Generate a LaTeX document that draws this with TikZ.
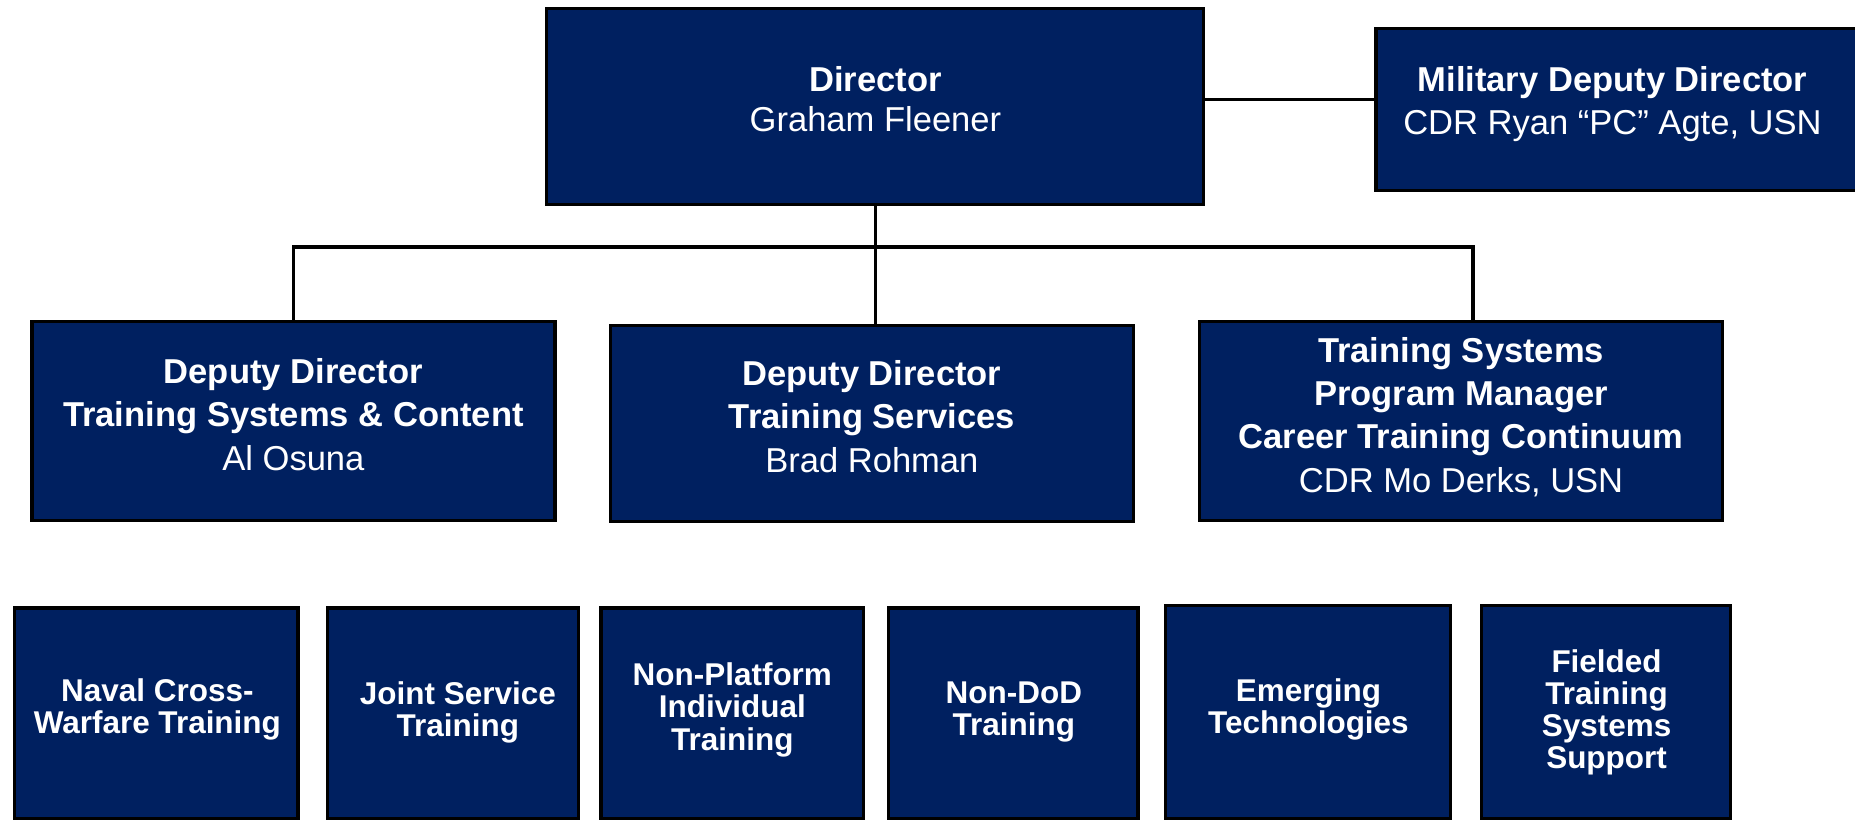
\documentclass[tikz,border=0pt]{standalone}
\usepackage{fontspec}
\setmainfont{Liberation Sans}
\definecolor{navy}{RGB}{0,32,96}
\begin{document}
\begin{tikzpicture}[x=0.5pt,y=-0.5pt,
  box/.style={draw=black, line width=1.4pt, fill=navy, inner sep=0pt},
  conn/.style={draw=black, line width=1.5pt},
  toptxt/.style={text=white, align=center, inner sep=0pt, font=\fontsize{14.6}{17}\selectfont},
  midtxt/.style={text=white, align=center, inner sep=0pt, font=\fontsize{14.6}{18.3}\selectfont},
  bottxt/.style={text=white, align=center, inner sep=0pt, font=\fontsize{13.3}{13.6}\selectfont\bfseries}]
\useasboundingbox (0,0) rectangle (1568,694);
\clip (0,0) rectangle (1568,694);
\fill[white] (0,0) rectangle (1568,694);
% top row
\node[box, minimum width=277.5pt, minimum height=83pt] (dir) at (739.5,90) {};
\node[box, minimum width=228.5pt, minimum height=68.5pt] (mdd) at (1391.5,92.5) {};
% second row
\node[box, minimum width=221pt, minimum height=84pt] (A) at (248,356) {};
\node[box, minimum width=221pt, minimum height=83pt] (B) at (737,358) {};
\node[box, minimum width=221pt, minimum height=84pt] (C) at (1235,356) {};
% bottom row
\node[box, minimum width=120pt, minimum height=89pt] (b1) at (132,603) {};
\node[box, minimum width=106pt, minimum height=89pt] (b2) at (383,603) {};
\node[box, minimum width=111pt, minimum height=89pt] (b3) at (619,603) {};
\node[box, minimum width=105.5pt, minimum height=89pt] (b4) at (856.5,603) {};
\node[box, minimum width=120.5pt, minimum height=90pt] (b5) at (1105.5,602) {};
\node[box, minimum width=105.5pt, minimum height=90pt] (b6) at (1357.5,602) {};
% connectors
\coordinate (bar) at (740,209);
\coordinate (cj) at (1245,272);
\coordinate (mj) at (1163,84);
\draw[conn] (dir.south -| bar) -- (bar |- B.north);
\draw[conn] (A.north) |- (cj |- bar) -- (cj);
\draw[conn] (dir.east |- mj) -- (mj);
% texts
\node[toptxt] (tdir) at (740,84) {\textbf{Director}\\Graham Fleener};
\node[midtxt] (tmdd) at (1363,88) {\textbf{Military Deputy Director}\\CDR Ryan “PC” Agte, USN};
\node[midtxt] (tA) at (248,350.5) {\textbf{Deputy Director}\\\textbf{Training Systems \& Content}\\Al Osuna};
\node[midtxt] (tB) at (737,352) {\textbf{Deputy Director}\\\textbf{Training Services}\\Brad Rohman};
\node[midtxt] (tC) at (1235,352.5) {\textbf{Training Systems}\\\textbf{Program Manager}\\\textbf{Career Training Continuum}\\CDR Mo Derks, USN};
\node[bottxt] (t1) at (133,600) {Naval Cross-\\Warfare Training};
\node[bottxt] (t2) at (387,602) {Joint Service\\Training};
\node[bottxt] (t3) at (619,600) {Non-Platform\\Individual\\Training};
\node[bottxt] (t4) at (857,602) {Non-DoD\\Training};
\node[bottxt] (t5) at (1106,600) {Emerging\\Technologies};
\node[bottxt] (t6) at (1358,602) {Fielded\\Training\\Systems\\Support};
\end{tikzpicture}
\end{document}
